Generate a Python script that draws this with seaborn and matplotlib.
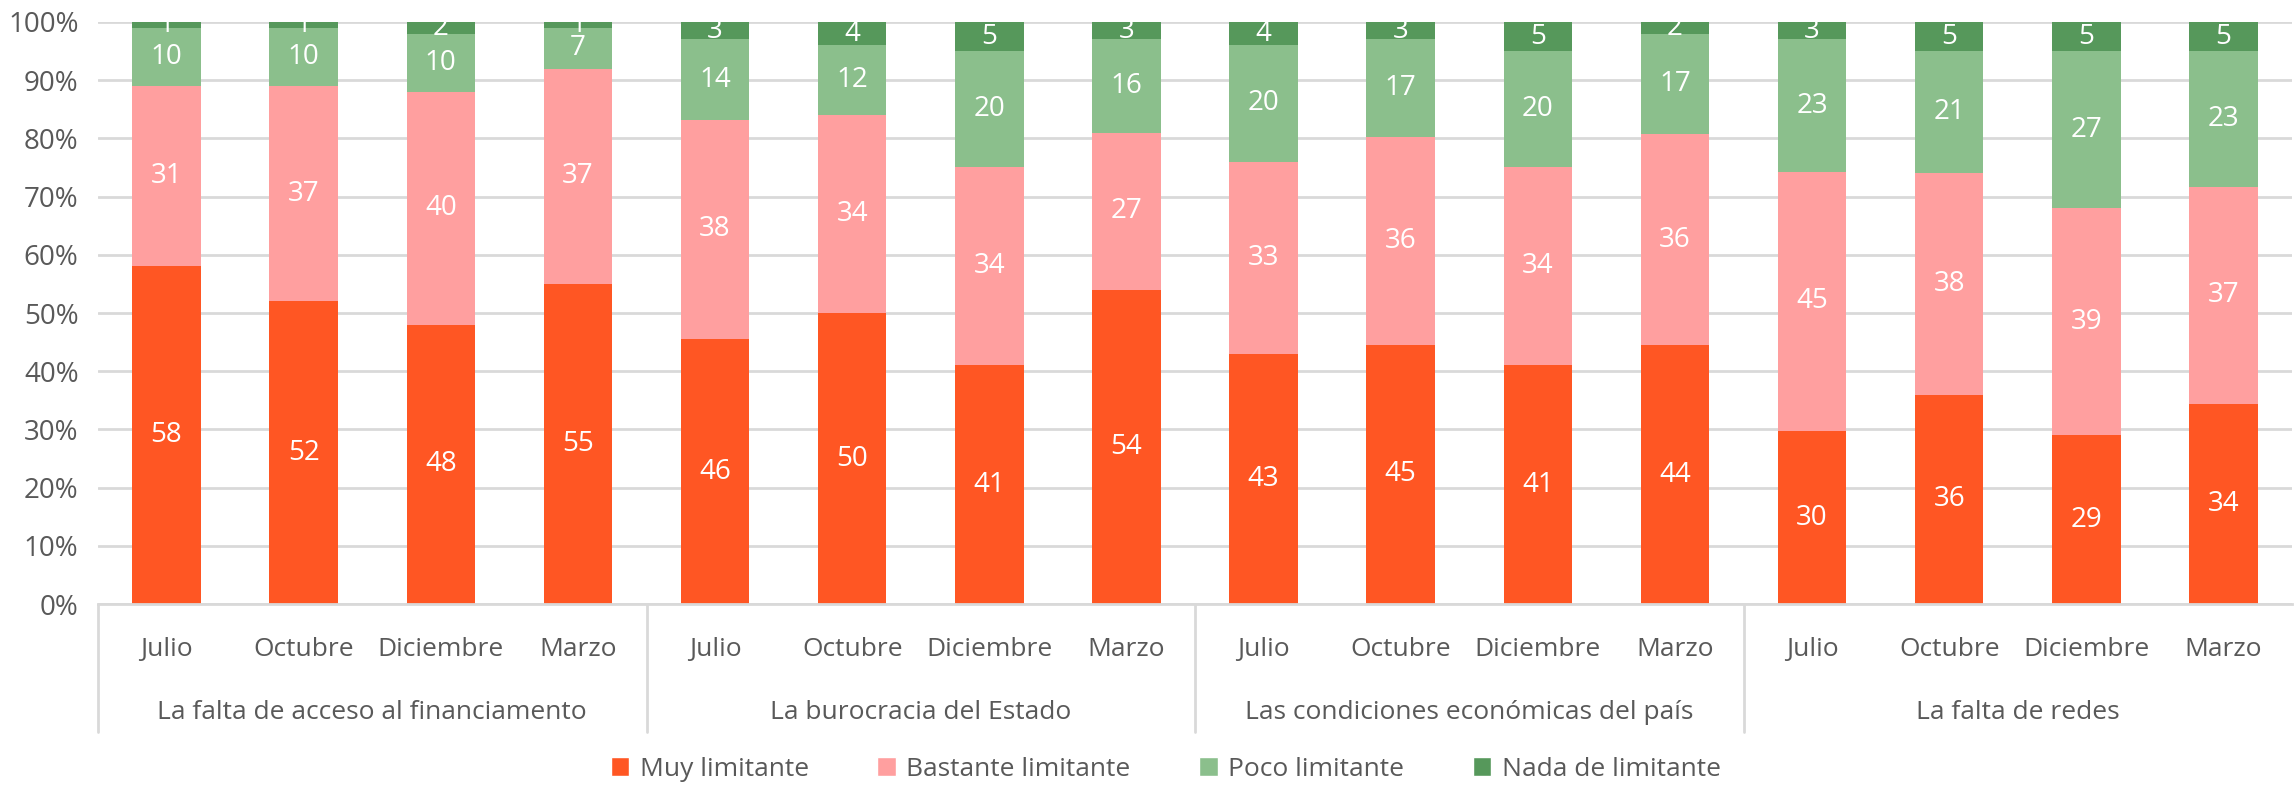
import numpy as np
import pandas as pd
import seaborn as sns
import matplotlib.pyplot as plt
from matplotlib.patches import Patch
from matplotlib.ticker import FuncFormatter

groups = ["La falta de acceso al financiamento", "La burocracia del Estado",
          "Las condiciones económicas del país", "La falta de redes"]
months = ["Julio", "Octubre", "Diciembre", "Marzo"]
levels = ["Muy limitante", "Bastante limitante", "Poco limitante", "Nada de limitante"]
colors = ["#FF5623", "#FF9F9F", "#8BBF8C", "#56985B"]

muy = [58, 52, 48, 55, 46, 50, 41, 54, 43, 45, 41, 44, 30, 36, 29, 34]
bastante = [31, 37, 40, 37, 38, 34, 34, 27, 33, 36, 34, 36, 45, 38, 39, 37]
poco = [10, 10, 10, 7, 14, 12, 20, 16, 20, 17, 20, 17, 23, 21, 27, 23]
nada = [1, 1, 2, 1, 3, 4, 5, 3, 4, 3, 5, 2, 3, 5, 5, 5]

sns.set_theme(style="white")
plt.rcParams['font.family'] = ['Open Sans', 'DejaVu Sans']
grey = "#595959"

keys = [f"{g}|{m}" for g in groups for m in months]
vals = np.array([muy, bastante, poco, nada], dtype=float)
pct = vals / vals.sum(axis=0) * 100
cum = np.cumsum(pct, axis=0)

df = pd.DataFrame({"key": keys})
for i, lv in enumerate(levels):
    df[lv] = cum[i]

fig = plt.figure(figsize=(22.95, 7.85), dpi=100)
ax = fig.add_axes([0.0427, 0.2305, 0.956, 0.7415])

# stacked look: draw the cumulative totals from tallest to shortest
for i in reversed(range(len(levels))):
    sns.barplot(data=df, x="key", y=levels[i], color=colors[i], width=0.5,
                saturation=1, ax=ax, zorder=2, linewidth=0)

for i in range(len(levels)):
    for j in range(len(keys)):
        ax.text(j, cum[i, j] - pct[i, j] / 2, f"{int(vals[i, j])}", ha="center",
                va="center", color="white", fontsize=20, zorder=3)

ax.set_ylim(0, 100)
ax.set_xlim(-0.5, len(keys) - 0.5)
ax.set_yticks(np.arange(0, 101, 10))
ax.yaxis.set_major_formatter(FuncFormatter(lambda v, p: f"{int(v)}%"))
ax.grid(axis="y", color="#D9D9D9", linewidth=2, zorder=0)
ax.set_axisbelow(True)
for s in ["top", "right", "left"]:
    ax.spines[s].set_visible(False)
ax.spines["bottom"].set_color("#D9D9D9")
ax.spines["bottom"].set_linewidth(2)
ax.tick_params(axis="y", length=0, labelsize=20, colors=grey, pad=14)
ax.set_xticks(range(len(keys)))
ax.set_xticklabels([m for g in groups for m in months])
ax.tick_params(axis="x", length=0, labelsize=19, colors=grey, pad=24)
ax.set_xlabel("")
ax.set_ylabel("")

trans = ax.get_xaxis_transform()
for k, g in enumerate(groups):
    ax.text(k * 4 + 1.5, -0.187, g, transform=trans, ha="center", va="center",
            fontsize=19, color=grey)
    ax.plot([k * 4 - 0.5, k * 4 - 0.5], [0, -0.22], transform=trans,
            color="#D9D9D9", linewidth=2, clip_on=False)

handles = [Patch(facecolor=c, label=l) for c, l in zip(colors, levels)]
fig.legend(handles=handles, loc="center", bbox_to_anchor=(0.508, 0.02), ncol=4,
           frameon=False, fontsize=19, handlelength=0.7, handleheight=0.7,
           columnspacing=2.6, handletextpad=0.4, labelcolor=grey)

fig.savefig("out.png", dpi=100)
